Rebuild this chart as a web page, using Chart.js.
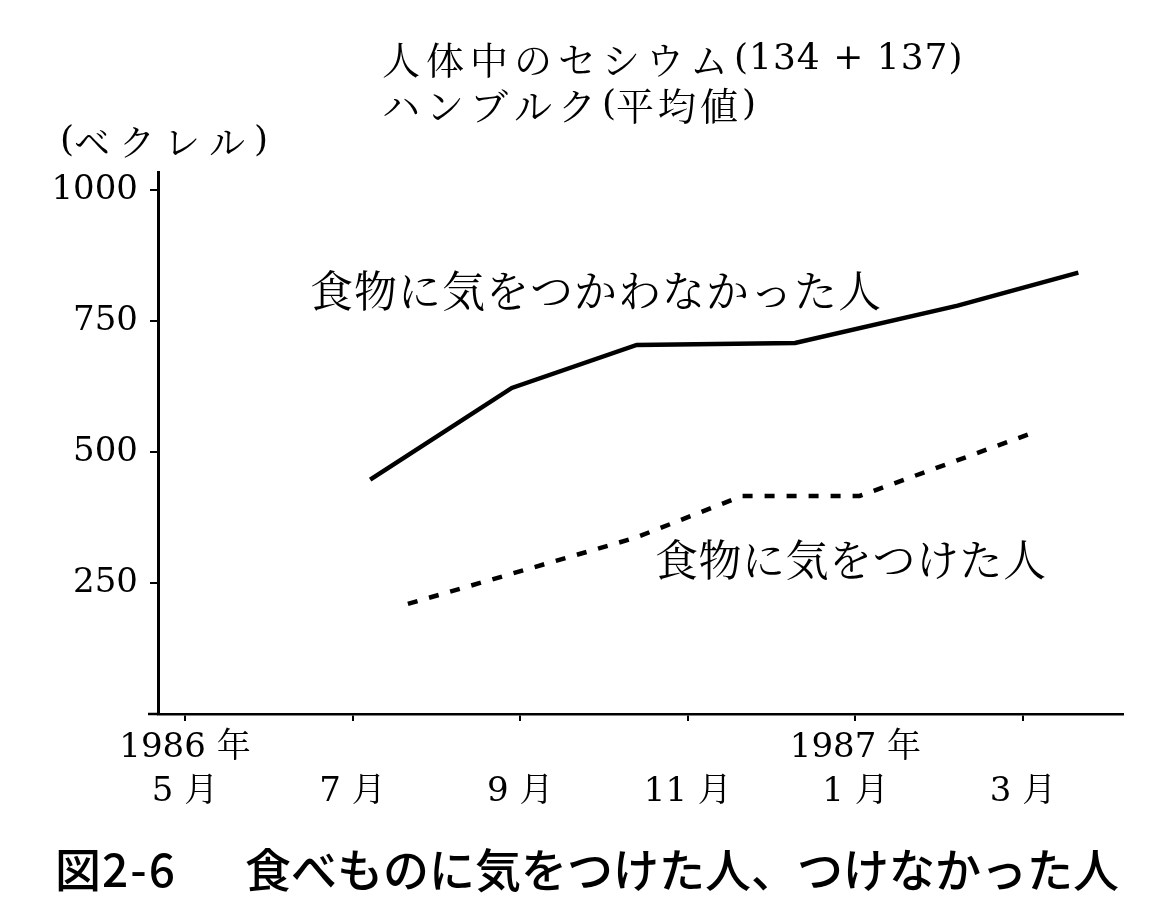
<!DOCTYPE html>
<html><head><meta charset="utf-8">
<script src="https://cdn.jsdelivr.net/npm/chart.js@4.4.1/dist/chart.umd.min.js"></script>
<style>html,body{margin:0;padding:0;background:#fff}canvas{display:block}</style>
</head><body>
<canvas id="c" width="1156" height="920"></canvas>
<script>
// ---- data ----
const tickMonths = [5, 7, 9, 11, 13, 15];   // months since Jan 1986 (13 = Jan 1987)
const tickLabels = [["1986 年", "5 月"], ["", "7 月"], ["", "9 月"], ["", "11 月"], ["1987 年", "1 月"], ["", "3 月"]];
const yTicks = [250, 500, 750, 1000];
const seriesNames = ["食物に気をつかわなかった人", "食物に気をつけた人"];
const carelessMonths = [7.21, 8.90, 10.39, 12.28, 14.22, 15.66];
const carelessValues = [447, 622, 704, 708, 779, 842];
const carefulMonths = [7.66, 10.37, 11.65, 13.05, 15.11];
const carefulValues = [210, 336, 416, 416, 536];
const titleLine1 = ["人体中のセシウム", "(134 + 137)"];
const titleLine2 = ["ハンブルク", "(", "平均値", ")"];
const unitLabel = ["(", "ベクレル", ")"];
const caption = ["図", "2-6", "食べものに気をつけた人、つけなかった人"];

const JP = "'Noto Serif CJK JP','Noto Sans CJK JP'";
const SERIF = "'DejaVu Serif'";

function drawRuns(ctx, x, y, runs) {
  for (const r of runs) {
    ctx.font = r.f;
    ctx.letterSpacing = (r.ls || 0) + 'px';
    if (r.x !== undefined) x = r.x;
    ctx.fillText(r.t, x, y);
    x += ctx.measureText(r.t).width;
  }
  ctx.letterSpacing = '0px';
}

const textPlugin = {
  id: 'texts',
  afterDraw(chart) {
    const ctx = chart.ctx;
    ctx.save();
    ctx.fillStyle = '#000';
    ctx.textBaseline = 'middle';
    ctx.textAlign = 'left';
    drawRuns(ctx, 382, 60, [
      {t: titleLine1[0], f: `38px ${JP}`, ls: 6},
      {t: titleLine1[1], f: `36px ${SERIF}`, ls: 1}
    ]);
    drawRuns(ctx, 382, 106, [
      {t: titleLine2[0], f: `38px ${JP}`, ls: 6},
      {t: titleLine2[1], f: `36px ${SERIF}`},
      {t: titleLine2[2], f: `38px ${JP}`, ls: 4},
      {t: titleLine2[3], f: `36px ${SERIF}`}
    ]);
    drawRuns(ctx, 60, 142, [
      {t: unitLabel[0], f: `36px ${SERIF}`},
      {t: unitLabel[1], f: `36px ${JP}`, ls: 9},
      {t: unitLabel[2], f: `36px ${SERIF}`}
    ]);
    drawRuns(ctx, 310, 291, [{t: seriesNames[0], f: `43px ${JP}`, ls: 1}]);
    drawRuns(ctx, 655, 560, [{t: seriesNames[1], f: `43px ${JP}`, ls: 0.5}]);
    drawRuns(ctx, 55, 870, [
      {t: caption[0], f: `500 46px 'Noto Sans CJK JP'`},
      {t: caption[1], f: `500 46px 'Noto Sans CJK JP'`, ls: 2, x: 102},
      {t: caption[2], f: `500 46px 'Noto Sans CJK JP'`, x: 245}
    ]);
    // x-axis overhang left of the y-axis
    ctx.strokeStyle = '#000';
    ctx.lineWidth = 2.5;
    ctx.beginPath();
    ctx.moveTo(148, chart.chartArea.bottom);
    ctx.lineTo(chart.chartArea.left, chart.chartArea.bottom);
    ctx.stroke();
    ctx.restore();
  }
};

new Chart(document.getElementById('c'), {
  type: 'line',
  data: {
    datasets: [
      {
        label: seriesNames[0],
        data: carelessMonths.map((m, i) => ({x: m, y: carelessValues[i]})),
        borderColor: '#000', borderWidth: 4.5, pointRadius: 0, tension: 0, fill: false
      },
      {
        label: seriesNames[1],
        data: carefulMonths.map((m, i) => ({x: m, y: carefulValues[i]})),
        borderColor: '#000', borderWidth: 4.5, borderDash: [10, 12], pointRadius: 0, tension: 0, fill: false
      }
    ]
  },
  options: {
    responsive: false,
    animation: false,
    devicePixelRatio: 1,
    layout: {padding: {top: 172, right: 33, left: 0, bottom: 0}},
    plugins: {legend: {display: false}, tooltip: {enabled: false}, title: {display: false}},
    scales: {
      x: {
        type: 'linear',
        min: 4.678, max: 16.193,
        afterBuildTicks: s => { s.ticks = tickMonths.map(v => ({value: v})); },
        afterFit: s => { s.height = 206; },
        border: {display: true, color: '#000', width: 2.5},
        grid: {drawOnChartArea: false, color: '#000', lineWidth: 2, tickLength: 7},
        ticks: {
          color: '#000', autoSkip: false, maxRotation: 0, padding: 5,
          font: {family: `${SERIF},'Noto Serif CJK JP','Noto Sans CJK JP'`, size: 34, lineHeight: 1.3},
          callback: v => tickLabels[tickMonths.indexOf(v)] || ''
        }
      },
      y: {
        type: 'linear',
        min: 0, max: 1034,
        afterBuildTicks: s => { s.ticks = yTicks.map(v => ({value: v})); },
        afterFit: s => { s.width = 158; },
        border: {display: true, color: '#000', width: 3},
        grid: {drawOnChartArea: false, color: '#000', lineWidth: 2, tickLength: 8},
        ticks: {
          color: '#000', padding: 12,
          font: {family: SERIF, size: 34},
          callback: v => String(v)
        }
      }
    }
  },
  plugins: [textPlugin]
});
</script>
</body></html>
